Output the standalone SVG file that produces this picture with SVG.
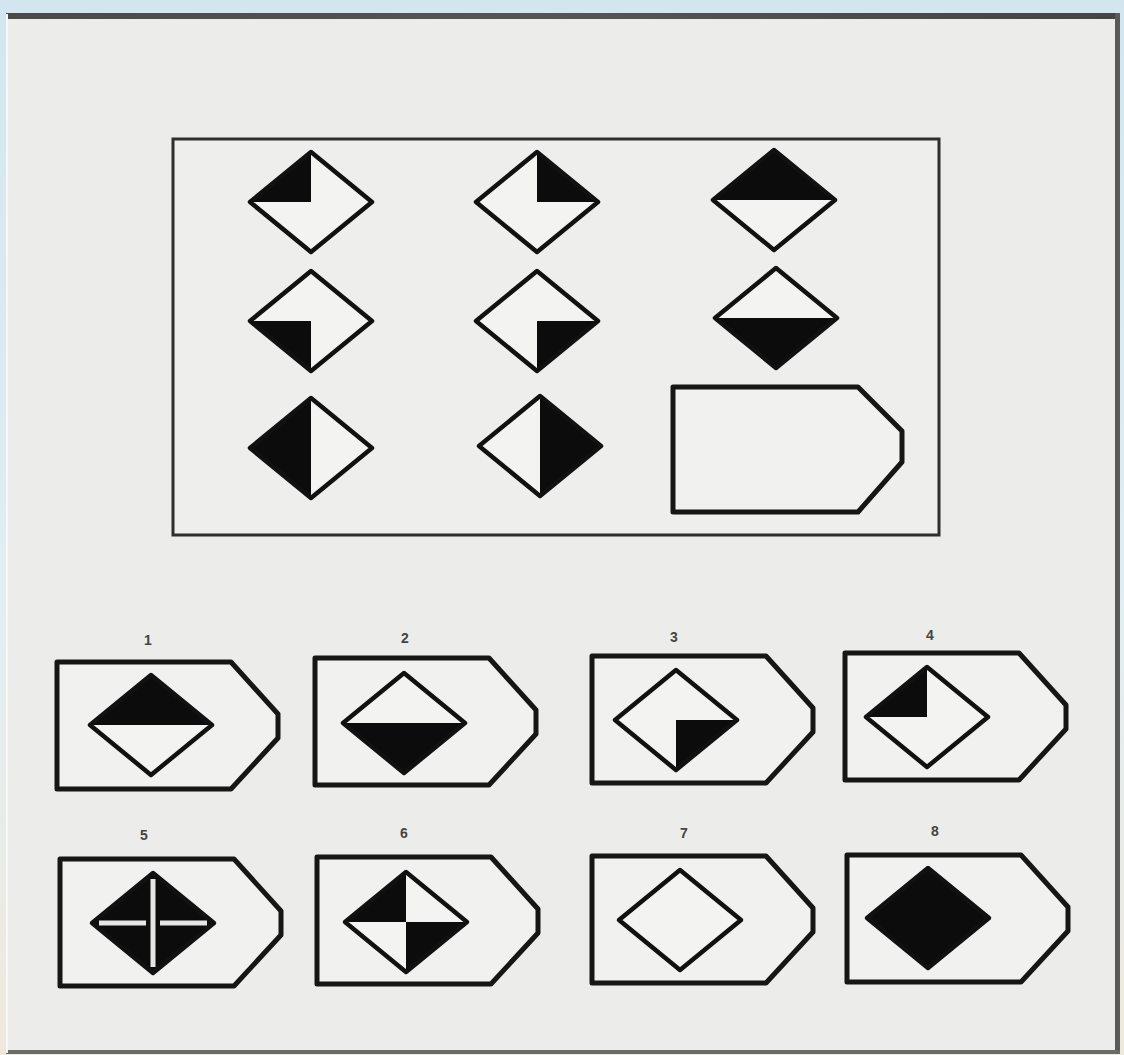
<svg xmlns="http://www.w3.org/2000/svg" xmlns:xlink="http://www.w3.org/1999/xlink" width="1124" height="1055" viewBox="0 0 1124 1055">
  <defs>
    <linearGradient id="bg" x1="0" y1="0" x2="0" y2="1">
      <stop offset="0" stop-color="#d3e6ef"/>
      <stop offset="0.6" stop-color="#e2eef2"/>
      <stop offset="1" stop-color="#efe9dc"/>
    </linearGradient>
    <linearGradient id="topline" x1="0" y1="0" x2="1" y2="0">
      <stop offset="0" stop-color="#4a4a4a"/>
      <stop offset="0.5" stop-color="#555"/>
      <stop offset="1" stop-color="#444"/>
    </linearGradient>
    <!-- diamond pieces centred on 0,0 -->
    <polygon id="dia" points="-61,0 0,-50 61,0 0,50"/>
    <polygon id="qTL" points="-61,0 0,-50 0,0"/>
    <polygon id="qTR" points="0,-50 61,0 0,0"/>
    <polygon id="qBL" points="-61,0 0,0 0,50"/>
    <polygon id="qBR" points="0,0 61,0 0,50"/>
    <polygon id="hT" points="-61,0 0,-50 61,0"/>
    <polygon id="hB" points="-61,0 61,0 0,50"/>
    <polygon id="hL" points="-61,0 0,-50 0,50"/>
    <polygon id="hR" points="0,-50 61,0 0,50"/>
    <path id="pent" d="M0,0 H174 L221,52 V76 L174,127 H0 Z"/>
  </defs>
  <style>
    .base { fill: #f3f3f1; }
    .blk { fill: #0c0c0c; }
    .out { fill: none; stroke: #111; stroke-width: 4.5; stroke-linejoin: round; }
    .pent { fill: #f1f1ef; stroke: #161616; stroke-width: 5; stroke-linejoin: round; }
    .lbl { font-family: "Liberation Sans", Arial, sans-serif; font-size: 14px; font-weight: bold; fill: #444; text-anchor: middle; }
    .cross { stroke: #e6e6e4; stroke-width: 5; }
  </style>

  <!-- slide background and panel -->
  <rect x="0" y="0" width="1124" height="1055" fill="url(#bg)"/>
  <rect x="6" y="14" width="1113" height="1039" fill="#ecedea"/>
  <rect x="6" y="13" width="1114" height="6" fill="url(#topline)"/>
  <rect x="1115" y="13" width="5" height="1041" fill="#5a5a5a"/>
  <rect x="6" y="1050" width="1114" height="4" fill="#6a6a6a"/>
  <rect x="6" y="14" width="2" height="1039" fill="#f7f7f5"/>

  <!-- matrix -->
  <g id="matrix">
    <rect x="173" y="139" width="766" height="396" fill="#eeeeec" stroke="#2e2e2e" stroke-width="3"/>

    <g id="m11" transform="translate(311,202)">
      <use href="#dia" class="base"/><use href="#qTL" class="blk"/><use href="#dia" class="out"/>
    </g>
    <g id="m12" transform="translate(537,202)">
      <use href="#dia" class="base"/><use href="#qTR" class="blk"/><use href="#dia" class="out"/>
    </g>
    <g id="m13" transform="translate(774,200)">
      <use href="#dia" class="base"/><use href="#hT" class="blk"/><use href="#dia" class="out"/>
    </g>
    <g id="m21" transform="translate(311,321)">
      <use href="#dia" class="base"/><use href="#qBL" class="blk"/><use href="#dia" class="out"/>
    </g>
    <g id="m22" transform="translate(537,321)">
      <use href="#dia" class="base"/><use href="#qBR" class="blk"/><use href="#dia" class="out"/>
    </g>
    <g id="m23" transform="translate(776,318)">
      <use href="#dia" class="base"/><use href="#hB" class="blk"/><use href="#dia" class="out"/>
    </g>
    <g id="m31" transform="translate(311,448)">
      <use href="#dia" class="base"/><use href="#hL" class="blk"/><use href="#dia" class="out"/>
    </g>
    <g id="m32" transform="translate(540,446)">
      <use href="#dia" class="base"/><use href="#hR" class="blk"/><use href="#dia" class="out"/>
    </g>
    <g id="m33">
      <path d="M673,387 H858 L902,431 V462 L858,512 H673 Z" class="pent"/>
    </g>
  </g>

  <!-- answer options -->
  <g id="opt1">
    <text x="148" y="645" class="lbl">1</text>
    <use href="#pent" class="pent" transform="translate(57,662)"/>
    <g transform="translate(151,725)">
      <use href="#dia" class="base"/><use href="#hT" class="blk"/><use href="#dia" class="out"/>
    </g>
  </g>
  <g id="opt2">
    <text x="405" y="643" class="lbl">2</text>
    <use href="#pent" class="pent" transform="translate(315,658)"/>
    <g transform="translate(404,723)">
      <use href="#dia" class="base"/><use href="#hB" class="blk"/><use href="#dia" class="out"/>
    </g>
  </g>
  <g id="opt3">
    <text x="674" y="642" class="lbl">3</text>
    <use href="#pent" class="pent" transform="translate(592,656)"/>
    <g transform="translate(676,720)">
      <use href="#dia" class="base"/><use href="#qBR" class="blk"/><use href="#dia" class="out"/>
    </g>
  </g>
  <g id="opt4">
    <text x="930" y="640" class="lbl">4</text>
    <use href="#pent" class="pent" transform="translate(845,653)"/>
    <g transform="translate(927,717)">
      <use href="#dia" class="base"/><use href="#qTL" class="blk"/><use href="#dia" class="out"/>
    </g>
  </g>
  <g id="opt5">
    <text x="144" y="840" class="lbl">5</text>
    <use href="#pent" class="pent" transform="translate(60,859)"/>
    <g transform="translate(153,923)">
      <use href="#dia" class="blk"/>
      <use href="#dia" class="out"/>
      <line x1="0" y1="-44" x2="0" y2="44" class="cross"/>
      <line x1="-54" y1="0" x2="-7" y2="0" class="cross"/>
      <line x1="7" y1="0" x2="54" y2="0" class="cross"/>
    </g>
  </g>
  <g id="opt6">
    <text x="404" y="838" class="lbl">6</text>
    <use href="#pent" class="pent" transform="translate(317,857)"/>
    <g transform="translate(406,922)">
      <use href="#dia" class="base"/><use href="#qTL" class="blk"/><use href="#qBR" class="blk"/><use href="#dia" class="out"/>
    </g>
  </g>
  <g id="opt7">
    <text x="684" y="838" class="lbl">7</text>
    <use href="#pent" class="pent" transform="translate(592,856)"/>
    <g transform="translate(680,920)">
      <use href="#dia" class="base"/><use href="#dia" class="out"/>
    </g>
  </g>
  <g id="opt8">
    <text x="935" y="836" class="lbl">8</text>
    <use href="#pent" class="pent" transform="translate(847,855)"/>
    <g transform="translate(928,918)">
      <use href="#dia" class="blk"/><use href="#dia" class="out"/>
    </g>
  </g>

  <g id="connectors"/>
</svg>
